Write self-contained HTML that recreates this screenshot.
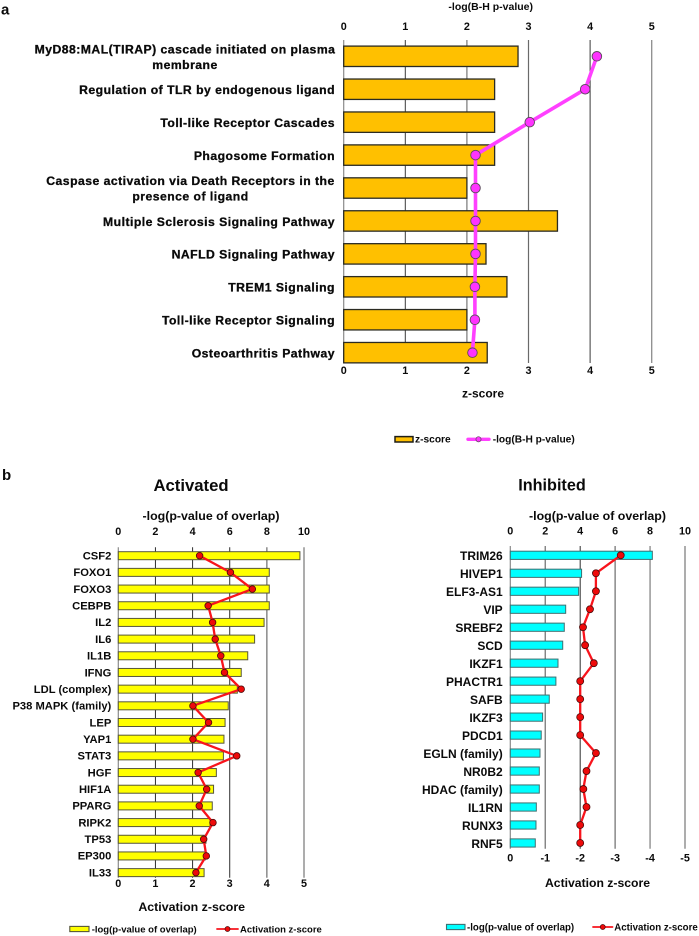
<!DOCTYPE html>
<html lang="en">
<head>
<meta charset="utf-8">
<title>Pathway enrichment charts</title>
<style>
html,body{margin:0;padding:0;background:#fff;width:699px;height:936px;overflow:hidden}
svg{display:block;filter:blur(0.3px)}
text{font-family:"Liberation Sans",Arial,sans-serif;font-weight:bold;fill:#0a0a0a;dominant-baseline:central}
</style>
</head>
<body>
<svg id="figure" width="699" height="936" viewBox="0 0 699 936" xmlns="http://www.w3.org/2000/svg">
<text x="1" y="10" font-size="15">a</text>
<text x="2" y="475.5" font-size="15">b</text>
<text x="191" y="485.5" font-size="16.7" text-anchor="middle">Activated</text>
<text x="552" y="485.5" font-size="16.2" text-anchor="middle">Inhibited</text>
</svg>
<script>
// Panel a data
const pathwayLabels = [
  ["MyD88:MAL(TIRAP) cascade initiated on plasma", "membrane"],
  ["Regulation of TLR by endogenous ligand"],
  ["Toll-like Receptor Cascades"],
  ["Phagosome Formation"],
  ["Caspase activation via Death Receptors in the", "presence of ligand"],
  ["Multiple Sclerosis Signaling Pathway"],
  ["NAFLD Signaling Pathway"],
  ["TREM1 Signaling"],
  ["Toll-like Receptor Signaling"],
  ["Osteoarthritis Pathway"]
];
const pathwayZScores = [2.83, 2.45, 2.45, 2.45, 2.0, 3.47, 2.31, 2.65, 2.0, 2.33];
const pathwayLogP = [4.11, 3.92, 3.02, 2.14, 2.14, 2.14, 2.14, 2.13, 2.13, 2.09];
const pathwayTicks = [0, 1, 2, 3, 4, 5];

// Panel b, activated data
const activatedLabels = ["CSF2","FOXO1","FOXO3","CEBPB","IL2","IL6","IL1B","IFNG","LDL (complex)","P38 MAPK (family)","LEP","YAP1","STAT3","HGF","HIF1A","PPARG","RIPK2","TP53","EP300","IL33"];
const activatedLogP = [9.78, 8.13, 8.13, 8.13, 7.85, 7.34, 6.97, 6.62, 6.41, 5.92, 5.75, 5.69, 5.66, 5.28, 5.13, 5.06, 4.94, 4.72, 4.68, 4.62];
const activatedZ = [2.19, 3.02, 3.61, 2.42, 2.54, 2.61, 2.76, 2.86, 3.31, 2.01, 2.43, 2.01, 3.19, 2.15, 2.38, 2.18, 2.55, 2.30, 2.37, 2.09];
const activatedTopTicks = [0, 2, 4, 6, 8, 10];
const activatedBottomTicks = [0, 1, 2, 3, 4, 5];

// Panel b, inhibited data
const inhibitedLabels = ["TRIM26","HIVEP1","ELF3-AS1","VIP","SREBF2","SCD","IKZF1","PHACTR1","SAFB","IKZF3","PDCD1","EGLN (family)","NR0B2","HDAC (family)","IL1RN","RUNX3","RNF5"];
const inhibitedLogP = [8.13, 4.08, 3.91, 3.17, 3.09, 3.0, 2.73, 2.61, 2.23, 1.85, 1.77, 1.70, 1.66, 1.66, 1.49, 1.47, 1.43];
const inhibitedZ = [-3.16, -2.45, -2.45, -2.28, -2.08, -2.14, -2.39, -2.0, -2.0, -2.0, -2.0, -2.45, -2.18, -2.09, -2.18, -2.0, -2.0];
const inhibitedTopTicks = [0, 2, 4, 6, 8, 10];
const inhibitedBottomTicks = [0, -1, -2, -3, -4, -5];

const svg = document.getElementById('figure');
const NS = 'http://www.w3.org/2000/svg';

function make(tag, attrs, name, parent) {
  const el = document.createElementNS(NS, tag);
  for (const k in attrs) el.setAttribute(k, attrs[k]);
  
  
  (parent || svg).appendChild(el);
  return el;
}
function label(str, x, y, size, anchor, name, extra) {
  const el = make('text', Object.assign({x: x, y: y + 0.8, 'font-size': size, 'text-anchor': anchor || 'middle'}, extra || {}), name);
  el.textContent = str;
  return el;
}

function drawChart(c) {
  const scaleBar = v => c.x0 + v * c.barUnit;
  const scaleLine = v => c.x0 + Math.abs(v) * c.lineUnit;
  const rowY = i => c.rowFirst + i * c.rowStep;

  // gridlines and tick labels
  c.gridTicks.forEach((t, i) => {
    const x = c.gridScale(t, scaleBar, scaleLine);
    make('line', {x1: x, x2: x, y1: c.axisTop, y2: c.axisBottom, stroke: c.gridColors[i], 'stroke-width': c.gridWidths[i]}, c.id + '-gridline-' + i);
  });
  c.topTicks.forEach(t => {
    const x = c.topScale(t, scaleBar, scaleLine);
    label(String(t), x, c.topTickY, c.tickSize, 'middle', c.id + '-top-tick-' + t);
  });
  c.bottomTicks.forEach(t => {
    const x = c.bottomScale(t, scaleBar, scaleLine);
    label(String(t), x, c.bottomTickY, c.tickSize, 'middle', c.id + '-bottom-tick-' + t);
  });

  // bars
  c.barValues.forEach((v, i) => {
    make('rect', {x: c.x0, y: rowY(i) - c.barH / 2, width: scaleBar(v) - c.x0, height: c.barH, fill: c.barFill, stroke: c.barStroke, 'stroke-width': c.barStrokeW}, c.id + '-bar-' + i);
  });

  // category labels
  c.labels.forEach((lab, i) => {
    const lines = Array.isArray(lab) ? lab : [lab];
    if (lines.length === 1) {
      label(lines[0], c.labelX, rowY(i), c.labelSize, 'end', c.id + '-label-' + i, c.labelExtra);
    } else {
      const w = c.labelWidths[i];
      const cx = c.labelX - w / 2;
      label(lines[0], cx, rowY(i) - 7.8, c.labelSize, 'middle', c.id + '-label-' + i + '-line-1', c.labelExtra);
      label(lines[1], cx, rowY(i) + 7.8, c.labelSize, 'middle', c.id + '-label-' + i + '-line-2', c.labelExtra);
    }
  });

  // line series
  const pts = c.lineValues.map((v, i) => scaleLine(v).toFixed(1) + ',' + rowY(i).toFixed(1)).join(' ');
  make('polyline', {points: pts, fill: 'none', stroke: c.lineColor, 'stroke-width': c.lineW, 'stroke-linejoin': 'round'}, c.id + '-line-series');
  c.lineValues.forEach((v, i) => {
    make('circle', {cx: scaleLine(v), cy: rowY(i), r: c.markerR, fill: c.markerFill, stroke: c.markerStroke, 'stroke-width': c.markerSW}, c.id + '-point-' + i);
  });
}

const useBar = (t, b) => b(t);
const useLine = (t, b, l) => l(t);

drawChart({
  id: 'pathway', x0: 343.7, barUnit: 61.6, lineUnit: 61.6,
  rowFirst: 56.3, rowStep: 32.93, barH: 20.4, axisTop: 40, axisBottom: 363,
  gridTicks: pathwayTicks, gridScale: useBar, topTicks: pathwayTicks, topScale: useBar, bottomTicks: pathwayTicks, bottomScale: useBar,
  gridColors: ['#8a8a8a', '#3a3a3a', '#777', '#6a6a6a', '#3a3a3a', '#8c8c8c'], gridWidths: [1.2, 1, 1.2, 1.2, 1, 1.3],
  topTickY: 26, bottomTickY: 370, tickSize: 10.8,
  barValues: pathwayZScores, barFill: '#ffc000', barStroke: '#2b2b22', barStrokeW: 1.3,
  labels: pathwayLabels, labelX: 335, labelSize: 12.2, labelWidths: {0: 300, 4: 289},
  labelExtra: {stroke: '#0a0a0a', 'stroke-width': 0.3, 'letter-spacing': 0.48},
  lineValues: pathwayLogP, lineColor: '#ff40ff', lineW: 3.6, markerR: 4.8, markerFill: '#ff33ff', markerStroke: '#5a4a5a', markerSW: 0.9
});

drawChart({
  id: 'activated', x0: 118.3, barUnit: 18.57, lineUnit: 37.13,
  rowFirst: 555.7, rowStep: 16.68, barH: 8, axisTop: 547.3, axisBottom: 877.7,
  gridTicks: activatedTopTicks, gridScale: useBar, topTicks: activatedTopTicks, topScale: useBar, bottomTicks: activatedBottomTicks, bottomScale: useLine,
  gridColors: ['#8a8a8a', '#2e2e2e', '#2e2e2e', '#2e2e2e', '#777', '#8a8a8a'], gridWidths: [1.2, 1, 1, 1, 1.3, 1.4],
  topTickY: 531, bottomTickY: 883, tickSize: 10.8,
  barValues: activatedLogP, barFill: '#ffff00', barStroke: '#56563a', barStrokeW: 1,
  labels: activatedLabels, labelX: 111.3, labelSize: 11.2, labelExtra: {},
  lineValues: activatedZ, lineColor: '#f8141c', lineW: 2.3, markerR: 3.3, markerFill: '#ee0a0a', markerStroke: '#4a0a0a', markerSW: 0.8
});

drawChart({
  id: 'inhibited', x0: 510.3, barUnit: 17.47, lineUnit: 34.95,
  rowFirst: 555.3, rowStep: 17.98, barH: 8.2, axisTop: 546, axisBottom: 848.7,
  gridTicks: inhibitedTopTicks, gridScale: useBar, topTicks: inhibitedTopTicks, topScale: useBar, bottomTicks: inhibitedBottomTicks, bottomScale: useLine,
  gridColors: ['#8a8a8a', '#777', '#2e2e2e', '#777', '#888', '#8a8a8a'], gridWidths: [1.2, 1.3, 1, 1.3, 1.3, 1.4],
  topTickY: 530.7, bottomTickY: 857.7, tickSize: 10.8,
  barValues: inhibitedLogP, barFill: '#00ffff', barStroke: '#3f6f70', barStrokeW: 1,
  labels: inhibitedLabels, labelX: 502.7, labelSize: 12, labelExtra: {},
  lineValues: inhibitedZ, lineColor: '#f8141c', lineW: 2.3, markerR: 3.5, markerFill: '#ee0a0a', markerStroke: '#4a0a0a', markerSW: 0.8
});

// axis titles
label('-log(B-H p-value)', 490.7, 6, 10.5, 'middle', 'pathway-top-axis-title');
label('z-score', 483, 392.7, 12, 'middle', 'pathway-bottom-axis-title');
label('-log(p-value of overlap)', 211, 515, 12.4, 'middle', 'activated-top-axis-title');
label('Activation z-score', 191.7, 906, 12.4, 'middle', 'activated-bottom-axis-title');
label('-log(p-value of overlap)', 597.5, 515, 12.4, 'middle', 'inhibited-top-axis-title');
label('Activation z-score', 597.5, 882, 12.2, 'middle', 'inhibited-bottom-axis-title');

// legends
function legend(id, y, sx1, sx2, fill, stroke, sw, sh, t1, t1x, lx1, lx2, lcolor, lw, mr, mfill, mstroke, t2, t2x, size) {
  make('rect', {x: sx1, y: y - sh / 2, width: sx2 - sx1, height: sh, fill: fill, stroke: stroke, 'stroke-width': sw}, id + '-legend-bar-swatch');
  label(t1, t1x, y, size, 'start', id + '-legend-bar-label');
  make('line', {x1: lx1, x2: lx2, y1: y, y2: y, stroke: lcolor, 'stroke-width': lw, 'stroke-linecap': 'round'}, id + '-legend-line-swatch');
  make('circle', {cx: (lx1 + lx2) / 2, cy: y, r: mr, fill: mfill, stroke: mstroke, 'stroke-width': 0.7}, id + '-legend-marker-swatch');
  label(t2, t2x, y, size, 'start', id + '-legend-line-label');
}
legend('pathway', 439.3, 395, 413, '#ffc000', '#1e1e18', 1.5, 5.4, 'z-score', 415, 468, 489, '#ff40ff', 3.4, 2.6, '#ff33ff', '#5a4a5a', '-log(B-H p-value)', 492.7, 10.2);
legend('activated', 929, 69.8, 89, '#ffff00', '#56563a', 1.1, 5.2, '-log(p-value of overlap)', 91.7, 217, 238, '#f8141c', 1.8, 2.5, '#ee0a0a', '#4a0a0a', 'Activation z-score', 240, 9.5);
legend('inhibited', 927, 446.5, 465, '#00ffff', '#3f6f70', 1.1, 5.2, '-log(p-value of overlap)', 467, 593, 612.5, '#f8141c', 1.8, 2.5, '#ee0a0a', '#4a0a0a', 'Activation z-score', 614.3, 9.7);
</script>
</body>
</html>
